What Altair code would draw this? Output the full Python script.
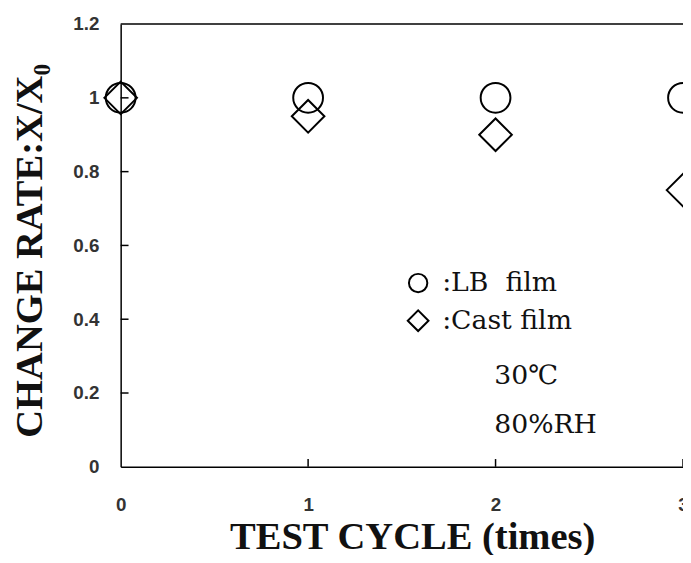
import altair as alt
import pandas as pd

# ---- data ----
cycles = [0, 1, 2, 3]
lb_film = [1.0, 1.0, 1.0, 1.0]
cast_film = [1.0, 0.95, 0.90, 0.75]
y_tick_values = [0, 0.2, 0.4, 0.6, 0.8, 1.0, 1.2]
x_tick_values = [0, 1, 2, 3]
legend_labels = [":LB \u00a0film", ":Cast film"]
condition_labels = ["30℃", "80%RH"]

X_TITLE = "TEST CYCLE (times)"
Y_TITLE = "CHANGE RATE:X/X₀"

# ---- layout constants ----
W, H = 569, 448
X_DOM = [0, 3]
Y_DOM = [0, 1.2]
LEG_SYM_X = 1.587
LEG_TXT_X = 1.715
LEG_Y = [0.498, 0.396]
COND_X = 1.993
COND_Y = [0.246, 0.113]
TICK_DX = 0.042
TICK_DY = 0.021
ANNOT_FONT = "DejaVu Serif"
ANNOT_SIZE = 27

xs = alt.Scale(domain=X_DOM, nice=False, zero=False)
ys = alt.Scale(domain=Y_DOM, nice=False, zero=False)

x_axis = alt.Axis(
    values=x_tick_values, format="d", title=X_TITLE,
    ticks=False, tickSize=0, labelPadding=29, labelFlush=False, labelOverlap=False,
    labelFont="Liberation Sans", labelFontSize=19, labelFontWeight="bold", labelColor="#333333",
    titleFont="Liberation Serif", titleFontSize=39, titleFontWeight="bold", titleColor="#111111",
    titleX=295, titleY=83, titleAlign="center", titleBaseline="alphabetic",
    domainColor="black", domainWidth=1.5, grid=False,
)
y_axis = alt.Axis(
    values=y_tick_values, format="~g", title=Y_TITLE,
    ticks=False, tickSize=0, labelPadding=22, labelFlush=False, labelOverlap=False,
    labelFont="Liberation Sans", labelFontSize=19, labelFontWeight="bold", labelColor="#333333",
    titleFont="Liberation Serif", titleFontSize=39, titleFontWeight="bold", titleColor="#111111",
    titleX=-92, titleY=229, titleAlign="center", titleBaseline="middle", titleAngle=-90,
    domainColor="black", domainWidth=1.5, grid=False,
)


def X(field, axis=False):
    if axis:
        return alt.X(field, scale=xs, axis=x_axis)
    return alt.X(field, scale=xs, title=X_TITLE)


def Y(field, axis=False):
    if axis:
        return alt.Y(field, scale=ys, axis=y_axis)
    return alt.Y(field, scale=ys, title=Y_TITLE)


lb_df = pd.DataFrame({"cycle": cycles, "rate": lb_film})
cast_df = pd.DataFrame({"cycle": cycles, "rate": cast_film})

lb_layer = alt.Chart(lb_df).mark_point(
    shape="circle", size=908, filled=False, stroke="black", strokeWidth=2, opacity=1
).encode(x=X("cycle:Q", True), y=Y("rate:Q", True))

cast_layer = alt.Chart(cast_df).mark_point(
    shape="diamond", size=1089, filled=False, stroke="black", strokeWidth=2, opacity=1
).encode(x=X("cycle:Q"), y=Y("rate:Q"))

# top frame line
top_df = pd.DataFrame({"x": [X_DOM[0]], "x2": [X_DOM[1]], "y": [Y_DOM[1]]})
top_line = alt.Chart(top_df).mark_rule(color="black", strokeWidth=1.5).encode(
    x=X("x:Q"), x2="x2:Q", y=Y("y:Q"),
)

# inward ticks
ytick_df = pd.DataFrame({"y": y_tick_values[1:-1]})
ytick_df["x"] = 0.0
ytick_df["x2"] = TICK_DX
ytick_layer = alt.Chart(ytick_df).mark_rule(color="black", strokeWidth=1.5).encode(
    x=X("x:Q"), x2="x2:Q", y=Y("y:Q"),
)
xtick_df = pd.DataFrame({"x": x_tick_values[1:]})
xtick_df["y"] = 0.0
xtick_df["y2"] = TICK_DY
xtick_layer = alt.Chart(xtick_df).mark_rule(color="black", strokeWidth=1.5).encode(
    x=X("x:Q"), y=Y("y:Q"), y2="y2:Q",
)

# legend-like annotation
leg_circle = alt.Chart(pd.DataFrame({"x": [LEG_SYM_X], "y": [LEG_Y[0]]})).mark_point(
    shape="circle", size=346, filled=False, stroke="black", strokeWidth=2, opacity=1
).encode(x=X("x:Q"), y=Y("y:Q"))
leg_diamond = alt.Chart(pd.DataFrame({"x": [LEG_SYM_X], "y": [LEG_Y[1]]})).mark_point(
    shape="diamond", size=440, filled=False, stroke="black", strokeWidth=2, opacity=1
).encode(x=X("x:Q"), y=Y("y:Q"))

leg_txt_df = pd.DataFrame({"label": legend_labels, "y": LEG_Y})
leg_txt_df["x"] = LEG_TXT_X
leg_text = alt.Chart(leg_txt_df).mark_text(
    align="left", baseline="middle", font=ANNOT_FONT, fontSize=ANNOT_SIZE, color="#111111"
).encode(x=X("x:Q"), y=Y("y:Q"), text="label:N")

cond_df = pd.DataFrame({"label": condition_labels, "y": COND_Y})
cond_df["x"] = COND_X
cond_text = alt.Chart(cond_df).mark_text(
    align="left", baseline="middle", font=ANNOT_FONT, fontSize=ANNOT_SIZE, color="#111111"
).encode(x=X("x:Q"), y=Y("y:Q"), text="label:N")

chart = alt.layer(
    lb_layer, cast_layer, top_line, ytick_layer, xtick_layer,
    leg_circle, leg_diamond, leg_text, cond_text,
).properties(
    width=W, height=H,
    padding={"left": 114, "top": 13, "right": 0, "bottom": 86},
    autosize=alt.AutoSizeParams(type="none"),
    background="white",
).configure_view(stroke=None)

chart.save("out.html", embed_options={"renderer": "svg", "actions": False})
